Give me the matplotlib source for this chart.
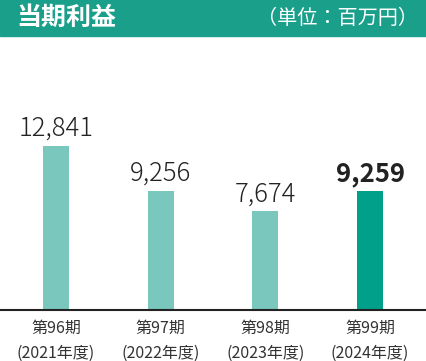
import matplotlib
matplotlib.use("Agg")
import matplotlib.pyplot as plt
from matplotlib.patches import Rectangle

plt.rcParams["font.family"] = ["Noto Sans CJK JP", "DejaVu Sans"]

periods = ["第96期", "第97期", "第98期", "第99期"]
years = ["(2021年度)", "(2022年度)", "(2023年度)", "(2024年度)"]
profit = [12841, 9256, 7674, 9259]

LIGHT, DARK, HEAD, INK = "#7ac7be", "#00a08b", "#1a9f8b", "#333333"
colors = [LIGHT, LIGHT, LIGHT, DARK]

fig = plt.figure(figsize=(4.26, 3.61), dpi=100)
fig.patch.set_facecolor("white")

# header band
fig.patches.append(Rectangle((0, 1 - 36 / 361), 1, 36 / 361, transform=fig.transFigure,
                             color=HEAD, zorder=0))
fig.text(16 / 426, 1 - 18 / 361, "当期利益", color="white", fontsize=18,
         fontweight="bold", va="center", ha="left")
fig.text(418 / 426, 1 - 19 / 361, "（単位：百万円）", color="white", fontsize=14.5,
         va="center", ha="right")

bottom = (361 - 309.5) / 361
top = (361 - 40) / 361
ax = fig.add_axes([0, bottom, 1, top - bottom])
scale = 164 / 12841
ax.set_ylim(0, (top - bottom) * 361 / scale)
ax.set_xlim(-56 / 104.67, (426 - 56) / 104.67)

x = range(len(profit))
ax.bar(x, profit, width=26 / 104.67, color=colors, zorder=2)
for i, v in enumerate(profit):
    ax.annotate(f"{v:,}", (i, v), xytext=(0, 3), textcoords="offset points",
                ha="center", va="bottom", fontsize=18.5,
                fontweight="bold" if i == 3 else "light", color="#222222")

# category labels, two lines under the baseline
for i, (p, y) in enumerate(zip(periods, years)):
    ax.annotate(p, (i, 0), xycoords=("data", "axes fraction"), xytext=(0, -13.8),
                textcoords="offset points", ha="center", va="center",
                fontsize=11.5, color=INK)
    ax.annotate(y, (i, 0), xycoords=("data", "axes fraction"), xytext=(0, -31.5),
                textcoords="offset points", ha="center", va="center",
                fontsize=11.5, color=INK)

for s in ["top", "left", "right"]:
    ax.spines[s].set_visible(False)
ax.spines["bottom"].set_color("#222222")
ax.spines["bottom"].set_linewidth(1.5)
ax.set_yticks([])
ax.set_xticks([])

fig.savefig("out.png", dpi=100)
